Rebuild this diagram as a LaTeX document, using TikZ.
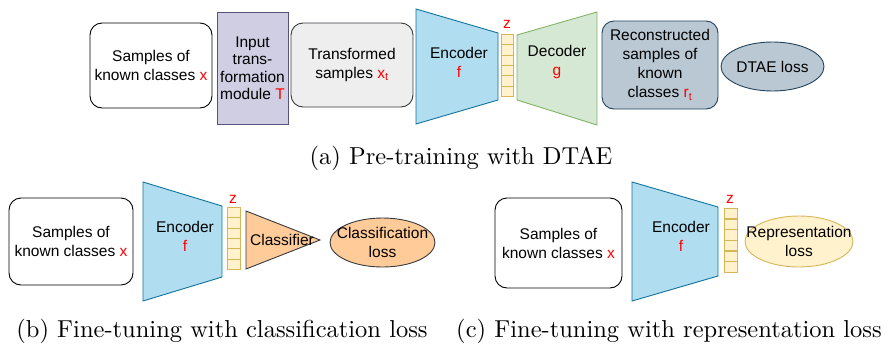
\documentclass[tikz,border=0pt]{standalone}
\usepackage{fontspec}
\setsansfont{Liberation Sans}
\newfontfamily\capfam{lmroman10-regular}[Extension=.otf]
\usetikzlibrary{shapes.geometric,positioning}
\definecolor{encfill}{HTML}{B1DDF0}
\definecolor{encdraw}{HTML}{10739E}
\definecolor{decfill}{HTML}{D5E8D4}
\definecolor{decdraw}{HTML}{82B366}
\definecolor{zfill}{HTML}{FFF2CC}
\definecolor{zdraw}{HTML}{D6B656}
\definecolor{modfill}{HTML}{D0CEE2}
\definecolor{moddraw}{HTML}{56517E}
\definecolor{greyfill}{HTML}{EEEEEE}
\definecolor{greydraw}{HTML}{36393D}
\definecolor{recfill}{HTML}{BAC8D3}
\definecolor{recdraw}{HTML}{23445D}
\definecolor{clsfill}{HTML}{FFCC99}
\newcommand\dgfont{\sffamily\fontsize{15.5}{19}\selectfont}
\newcommand\captfont{\capfam\fontsize{24.5}{28}\selectfont}
\newcommand\rv[1]{\textcolor{red}{#1}}
\tikzset{
  sample/.style={draw=black,line width=0.9pt,rounded corners=12pt,fill=white,
    align=center,font=\dgfont,inner sep=0pt},
  module/.style={sample,rounded corners=0pt,draw=moddraw,fill=modfill,
    font=\sffamily\fontsize{15.5}{17.5}\selectfont},
  encbody/.style={draw=encdraw,fill=encfill,line width=0.9pt},
  decbody/.style={draw=decdraw,fill=decfill,line width=0.9pt},
  clsbody/.style={draw=greydraw,fill=clsfill,line width=0.9pt},
  netlabel/.style={align=center,font=\dgfont,inner sep=0pt},
  zcell/.style={draw=zdraw,fill=zfill,line width=0.8pt,minimum width=12pt,
    minimum height=10.4pt,inner sep=0pt,anchor=north},
  zlabel/.style={text=red,font=\dgfont,anchor=base,inner sep=0pt},
  lossnode/.style={ellipse,line width=0.9pt,align=center,font=\dgfont,
    inner xsep=-30pt,inner ysep=-20pt},
  caption/.style={font=\captfont,anchor=base,inner sep=0pt}
}

\begin{document}
\begin{tikzpicture}[x=1pt,y=-1pt]
  \useasboundingbox (0,0) rectangle (889,343);

  % (a) pre-training
  \node[sample,minimum width=122pt,minimum height=85pt] (samplesA) at (151,65.5)
    {Samples of\\known classes \rv{x}};
  \node[module,minimum width=71pt,minimum height=112pt] (trans) at (252.5,68)
    {Input\\trans-\\formation\\module \rv{T}};
  \node[sample,draw=greydraw,fill=greyfill,minimum width=122pt,minimum height=84pt] (transformed) at (352,65)
    {Transformed\\samples \rv{x\textsubscript{t}}};
  \filldraw[encbody] (416,9) -- (498,33) -- (498,100) -- (416,124) -- cycle;
  \node[netlabel] (encA) at (459,62) {Encoder\\\rv{f}};
  \node[zlabel] (zA) at (507,28) {z};
  \foreach \i in {0,...,5}
    \node[zcell] (zA\i) at (507,{34+\i*10.33}) {};
  \filldraw[decbody] (517,35) -- (597,12) -- (597,125) -- (517,100) -- cycle;
  \node[netlabel] (dec) at (557,62) {Decoder\\\rv{g}};
  \node[sample,draw=recdraw,fill=recfill,minimum width=116pt,minimum height=88pt] (recon) at (660,65)
    {Reconstructed\\samples of\\known\\classes \rv{r\textsubscript{t}}};
  \node[lossnode,draw=recdraw,fill=recfill,minimum width=103pt,minimum height=49pt] (dtae) at (772.5,66.5)
    {DTAE loss};
  \node[caption] (capA) at (461,164) {(a) Pre-training with DTAE};

  % (b) fine-tuning, classification loss
  \node[sample,minimum width=124pt,minimum height=87pt] (samplesB) at (71,241.5)
    {Samples of\\known classes \rv{x}};
  \filldraw[encbody] (143,182) -- (222,206) -- (222,277) -- (143,301) -- cycle;
  \node[netlabel] (encB) at (185,236.5) {Encoder\\\rv{f}};
  \node[zlabel] (zB) at (233,203) {z};
  \foreach \i in {0,...,5}
    \node[zcell,minimum width=13pt] (zB\i) at (233.5,{207+\i*10.33}) {};
  \filldraw[clsbody] (246,211) -- (320,240) -- (246,269) -- cycle;
  \node[netlabel] (classifier) at (282,240) {Classifier};
  \node[lossnode,draw=greydraw,fill=clsfill,minimum width=105pt,minimum height=49pt] (clsloss) at (382.5,242.5)
    {Classification\\loss};
  \node[caption] (capB) at (222,337) {(b) Fine-tuning with classification loss};

  % (c) fine-tuning, representation loss
  \node[sample,minimum width=127pt,minimum height=90pt] (samplesC) at (558.5,243)
    {Samples of\\known classes \rv{x}};
  \filldraw[encbody] (632,182) -- (718,207) -- (718,276) -- (632,301) -- cycle;
  \node[netlabel] (encC) at (681,236.5) {Encoder\\\rv{f}};
  \node[zlabel] (zC) at (730,203) {z};
  \foreach \i in {0,...,5}
    \node[zcell,minimum width=13pt] (zC\i) at (730.5,{208+\i*10.67}) {};
  \node[lossnode,draw=zdraw,fill=zfill,minimum width=108pt,minimum height=51pt] (reploss) at (799,241.5)
    {Representation\\loss};
  \node[caption] (capC) at (669,337) {(c) Fine-tuning with representation loss};
\end{tikzpicture}
\end{document}
